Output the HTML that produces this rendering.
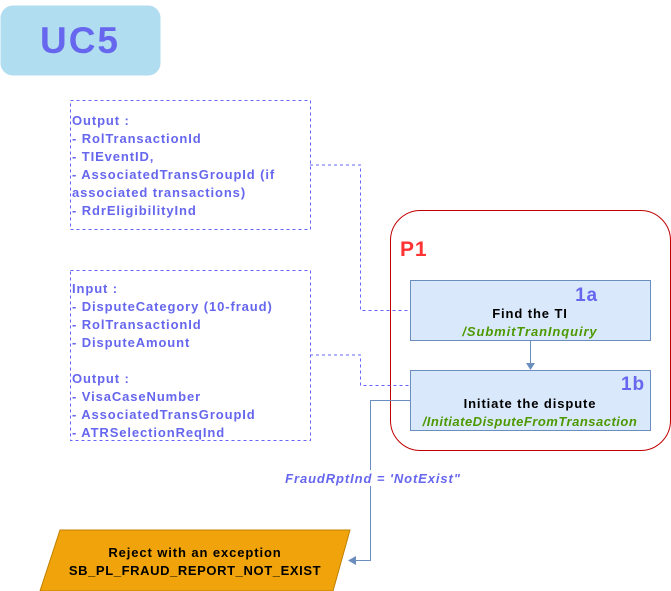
<!DOCTYPE html>
<html><head><style>
body{margin:0;background:#fff;width:671px;height:591px;overflow:hidden;font-family:"Liberation Sans",sans-serif}
.t{font-weight:bold;font-size:13px;color:#6666ee;line-height:18px;position:absolute;left:72px;letter-spacing:0.9px;white-space:nowrap}
svg text{letter-spacing:0.9px}
</style></head><body>
<svg width="671" height="591" style="position:absolute;left:0;top:0" font-family="Liberation Sans, sans-serif">
<rect x="1" y="6" width="159" height="69" rx="12" fill="#b1ddf0" stroke="#b1ddf0"/>
<text x="80" y="53" text-anchor="middle" font-size="37" font-weight="bold" fill="#6666ee" style="letter-spacing:2px">UC5</text>
<rect x="70.5" y="100.5" width="240" height="129" fill="none" stroke="#6666ff" stroke-dasharray="3,3"/>
<rect x="70.5" y="270.5" width="240" height="170" fill="none" stroke="#6666ff" stroke-dasharray="3,3"/>
<rect x="390.5" y="210.5" width="280" height="240" rx="30" fill="none" stroke="#c00000"/>
<text x="400" y="256" font-size="21" font-weight="bold" fill="#ff3333">P1</text>
<polyline points="310,165 360.5,165 360.5,310.5 410,310.5" fill="none" stroke="#6666ff" stroke-dasharray="3,3"/>
<polyline points="310,355 360.5,355 360.5,385.5 410,385.5" fill="none" stroke="#6666ff" stroke-dasharray="3,3"/>
<rect x="410.5" y="280.5" width="240" height="60" fill="#dae8fc" stroke="#6c8ebf"/>
<rect x="410.5" y="370.5" width="240" height="60" fill="#dae8fc" stroke="#6c8ebf"/>
<line x1="530.5" y1="341" x2="530.5" y2="364" stroke="#6c8ebf"/>
<polygon points="526,363 535,363 530.5,370" fill="#6c8ebf"/>
<text x="598" y="301" text-anchor="end" font-size="19" font-weight="bold" fill="#6666ee">1a</text>
<text x="530" y="318" text-anchor="middle" font-size="13" font-weight="bold" fill="#000">Find the TI</text>
<text x="530" y="336" text-anchor="middle" font-size="13" font-weight="bold" font-style="italic" fill="#4d9900">/SubmitTranInquiry</text>
<text x="645" y="390" text-anchor="end" font-size="19" font-weight="bold" fill="#6666ee">1b</text>
<text x="530" y="408" text-anchor="middle" font-size="13" font-weight="bold" fill="#000">Initiate the dispute</text>
<text x="530" y="426" text-anchor="middle" font-size="13" font-weight="bold" font-style="italic" fill="#4d9900" style="letter-spacing:0.5px">/InitiateDisputeFromTransaction</text>
<polyline points="410,400.5 370.5,400.5 370.5,560.5 354,560.5" fill="none" stroke="#6c8ebf"/>
<polygon points="348,560.5 356,556 356,565" fill="#6c8ebf"/>
<rect x="282" y="470" width="184" height="16" fill="#fff"/>
<text x="373" y="483" text-anchor="middle" font-size="13" font-weight="bold" font-style="italic" fill="#6666ee">FraudRptInd = 'NotExist"</text>
<polygon points="60,530 350,530 333,591 40,591" fill="#f0a30a" stroke="#c08000"/>
<text x="195" y="557" text-anchor="middle" font-size="13" font-weight="bold" fill="#000">Reject with an exception</text>
<text x="195" y="575" text-anchor="middle" font-size="13" font-weight="bold" fill="#000" style="letter-spacing:0.6px">SB_PL_FRAUD_REPORT_NOT_EXIST</text>
</svg>
<div class="t" style="top:112px">Output :<br>- RolTransactionId<br>- TIEventID,<br>- AssociatedTransGroupId (if<br>associated transactions)<br>- RdrEligibilityInd</div>
<div class="t" style="top:280px">Input :<br>- DisputeCategory (10-fraud)<br>- RolTransactionId<br>- DisputeAmount<br><br>Output :<br>- VisaCaseNumber<br>- AssociatedTransGroupId<br>- ATRSelectionReqInd</div>
</body></html>
